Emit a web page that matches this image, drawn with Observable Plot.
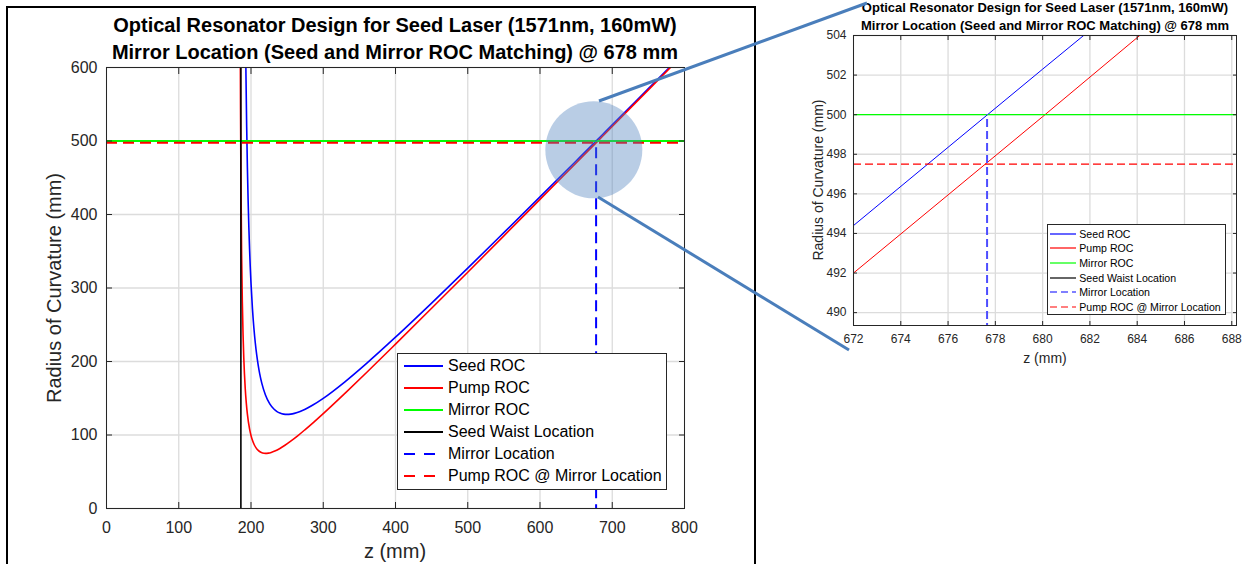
<!DOCTYPE html>
<html><head><meta charset="utf-8">
<script src="https://cdn.jsdelivr.net/npm/d3@7"></script>
<script src="https://cdn.jsdelivr.net/npm/@observablehq/plot@0.6"></script>
<style>
body{margin:0;background:#fff;font-family:"Liberation Sans",Arial,sans-serif;color:#262626;}
#root{position:relative;width:1245px;height:564px;overflow:hidden;background:#fff;}
.abs{position:absolute;}
.ctr{position:absolute;transform:translate(-50%,-50%);line-height:1;white-space:nowrap;}
.title{font-weight:bold;color:#000;}
.leg{position:absolute;background:#fff;border:1px solid #262626;box-sizing:border-box;}
</style></head><body><div id="root"></div>
<script>
// ---- data ----
const seedZ = [192, 193, 194, 195, 196, 197, 198, 199, 200, 202, 204, 206, 208, 210, 212, 215, 220, 226, 232, 236, 240, 245, 250, 255, 260, 268, 275, 285, 300, 330, 360, 400, 450, 500, 550, 600, 650, 672, 680, 690, 750, 790, 800];
const seedR = [688.7, 592.1, 520.0, 464.1, 419.6, 383.4, 353.3, 328.1, 306.6, 272.0, 245.6, 224.8, 208.2, 194.7, 183.5, 170.2, 154.5, 142.4, 135.0, 131.9, 129.9, 128.4, 128.0, 128.4, 129.4, 131.9, 135.0, 140.4, 149.9, 172.4, 197.5, 233.1, 279.5, 327.0, 375.3, 423.9, 472.8, 494.4, 502.3, 512.1, 571.3, 610.8, 620.7];
const pumpZ = [184.5, 185, 185.5, 186, 187, 188, 189, 190, 192, 193.5, 195, 198, 200, 202, 204.5, 207, 210, 213, 216, 220, 224, 228, 233, 240, 247, 255, 265, 275, 287, 300, 330, 360, 400, 450, 500, 550, 600, 650, 672, 680, 690, 750, 800];
const pumpR = [880.5, 671.7, 543.5, 456.7, 347.1, 280.8, 236.6, 205.2, 163.6, 143.3, 128.3, 108.2, 99.3, 92.7, 86.7, 82.5, 79.0, 76.8, 75.6, 75.0, 75.3, 76.3, 78.2, 81.7, 86.0, 91.6, 99.2, 107.4, 117.6, 129.1, 156.7, 185.0, 223.6, 272.4, 321.5, 370.9, 420.5, 470.1, 492.0, 499.9, 509.9, 569.6, 619.4];
const mirrorROC = 500;
const waistZ = 186;
const mirrorZ = 677.65;
const pumpAtMirror = 497.5;
const mainXTicks = [0, 100, 200, 300, 400, 500, 600, 700, 800];
const mainYTicks = [0, 100, 200, 300, 400, 500, 600];
const zoomXTicks = [672, 674, 676, 678, 680, 682, 684, 686, 688];
const zoomYTicks = [490, 492, 494, 496, 498, 500, 502, 504];
const zoomCircleZ = [674.5];
const zoomCircleR = [488];
const legendLabels = ["Seed ROC", "Pump ROC", "Mirror ROC", "Seed Waist Location", "Mirror Location", "Pump ROC @ Mirror Location"];
const legendColors = ["#0000ff", "#ff0000", "#00ff00", "#000000", "#0000ff", "#ff0000"];
const legendDashed = [false, false, false, false, true, true];
const titleLine1 = "Optical Resonator Design for Seed Laser (1571nm, 160mW)";
const titleLine2 = "Mirror Location (Seed and Mirror ROC Matching) @ 678 mm";
const xLabel = "z (mm)";
const yLabel = "Radius of Curvature (mm)";

// ---- build ----
const seed = seedZ.map((z, i) => ({z, r: seedR[i]}));
const pump = pumpZ.map((z, i) => ({z, r: pumpR[i]}));
const circle = zoomCircleZ.map((z, i) => ({z, r: zoomCircleR[i]}));
const root = document.getElementById("root");

function chart(o) {
  const marks = [
    Plot.gridX(o.xTicks, {stroke: "#dcdcdc", strokeOpacity: 1, strokeWidth: o.gw}),
    Plot.gridY(o.yTicks, {stroke: "#dcdcdc", strokeOpacity: 1, strokeWidth: o.gw}),
    Plot.line(seed, {x: "z", y: "r", stroke: "#0000ff", strokeWidth: o.lw, curve: "monotone-x", clip: true}),
    Plot.line(pump, {x: "z", y: "r", stroke: "#ff0000", strokeWidth: o.lw, curve: "monotone-x", clip: true}),
    Plot.ruleY([mirrorROC], {stroke: "#00ff00", strokeWidth: o.lw2, clip: true}),
    Plot.ruleX([waistZ], {stroke: "#000000", strokeWidth: o.lw, clip: true}),
    Plot.ruleX([mirrorZ], {y1: o.yDomain[0] - 10, y2: mirrorROC, stroke: o.dashBlue, strokeWidth: o.dw, strokeDasharray: o.dash, clip: true}),
    Plot.ruleY([pumpAtMirror], {stroke: "#ff0000", strokeWidth: o.dw2, strokeDasharray: o.dash, clip: true}),
  ];
  if (o.circle) marks.push(Plot.dot(circle, {x: "z", y: "r", r: o.circle, fill: "#4f81bd", fillOpacity: 0.4, stroke: null}));
  marks.push(
    Plot.frame({stroke: "#262626", strokeWidth: 1}),
    Plot.axisX(o.xTicks, {tickSize: 0, tickPadding: o.xpad, label: null, fontSize: o.fs, fill: "#262626"}),
    Plot.axisY(o.yTicks, {tickSize: 0, tickPadding: o.ypad, label: null, fontSize: o.fs, fill: "#262626"}),
    Plot.axisX(o.xTicks, {anchor: "bottom", tickSize: -o.tk, tickFormat: () => "", label: null, stroke: "#262626"}),
    Plot.axisX(o.xTicks, {anchor: "top", tickSize: -o.tk, tickFormat: () => "", label: null, stroke: "#262626"}),
    Plot.axisY(o.yTicks, {anchor: "left", tickSize: -o.tk, tickFormat: () => "", label: null, stroke: "#262626"}),
    Plot.axisY(o.yTicks, {anchor: "right", tickSize: -o.tk, tickFormat: () => "", label: null, stroke: "#262626"})
  );
  return Plot.plot({
    width: o.width, height: o.height,
    marginLeft: o.ml, marginRight: o.mr, marginTop: o.mt, marginBottom: o.mb,
    style: {background: "transparent", fontFamily: "'Liberation Sans', Arial, sans-serif", overflow: "visible", color: "#262626"},
    x: {domain: o.xDomain},
    y: {domain: o.yDomain},
    marks
  });
}

function place(el, left, top, z) {
  const d = document.createElement("div");
  d.className = "abs"; d.style.left = left + "px"; d.style.top = top + "px"; d.style.zIndex = z;
  d.appendChild(el); root.appendChild(d); return d;
}
function text(str, cx, cy, size, cls, rotate, z) {
  const d = document.createElement("div");
  d.className = "ctr " + (cls || "");
  d.textContent = str;
  d.style.left = cx + "px"; d.style.top = cy + "px"; d.style.fontSize = size + "px";
  d.style.zIndex = z || 5;
  if (rotate) d.style.transform = "translate(-50%,-50%) rotate(-90deg)";
  root.appendChild(d); return d;
}
function legend(left, top, w, h, y0, dy, x1, x2, tx, fs, lw, dash) {
  const box = document.createElement("div");
  box.className = "leg";
  Object.assign(box.style, {left: left + "px", top: top + "px", width: w + "px", height: h + "px", zIndex: 6});
  legendLabels.forEach((lab, i) => {
    const y = y0 + dy * i;
    const svg = document.createElementNS("http://www.w3.org/2000/svg", "svg");
    svg.setAttribute("width", w); svg.setAttribute("height", 10);
    Object.assign(svg.style, {position: "absolute", left: "-1px", top: (y - 6) + "px"});
    const ln = document.createElementNS("http://www.w3.org/2000/svg", "line");
    ln.setAttribute("x1", x1); ln.setAttribute("x2", x2); ln.setAttribute("y1", 5); ln.setAttribute("y2", 5);
    ln.setAttribute("stroke", legendColors[i]); ln.setAttribute("stroke-width", lw);
    if (legendDashed[i]) ln.setAttribute("stroke-dasharray", dash);
    svg.appendChild(ln); box.appendChild(svg);
    const s = document.createElement("span");
    s.textContent = lab;
    Object.assign(s.style, {position: "absolute", left: (tx - 1) + "px", top: (y - 1) + "px", fontSize: fs + "px", lineHeight: 1, transform: "translateY(-50%)", whiteSpace: "nowrap", color: "#000"});
    box.appendChild(s);
  });
  root.appendChild(box);
}

// outer frame of the main figure
const frame = document.createElement("div");
Object.assign(frame.style, {position: "absolute", left: "6px", top: "6px", width: "750px", height: "600px", border: "2px solid #000", boxSizing: "border-box", zIndex: 0});
root.appendChild(frame);

// main chart
const mainSvg = chart({width: 760, height: 564, ml: 106, mr: 76, mt: 67, mb: 56,
  xDomain: [0, 800], yDomain: [0, 600], xTicks: mainXTicks, yTicks: mainYTicks,
  gw: 1.3, lw: 1.6, lw2: 2, dw: 2, dw2: 2, dash: "11,6", dashBlue: "#0000ff", fs: 16, xpad: 13, ypad: 9, tk: 6, circle: 48.5});
place(mainSvg, 0, 0, 1);

// zoomed chart
const zoomSvg = chart({width: 465, height: 380, ml: 73, mr: 9, mt: 35, mb: 55,
  xDomain: [672, 688.2], yDomain: [489.35, 504], xTicks: zoomXTicks, yTicks: zoomYTicks,
  gw: 1.3, lw: 1, lw2: 1.2, dw: 2, dw2: 1.3, dash: "8,4", dashBlue: "#4d4dff", fs: 12, xpad: 9, ypad: 7, tk: 4, circle: 0});
place(zoomSvg, 780, 0, 1);

// titles and labels
text(titleLine1, 395, 25, 20, "title");
text(titleLine2, 395, 51.5, 20, "title");
text(xLabel, 395, 551, 20, "");
text(yLabel, 53.5, 287.5, 20, "", true);
text(titleLine1, 1045, 7, 13, "title");
text(titleLine2, 1045, 25, 13, "title");
text(xLabel, 1045, 357.5, 14, "");
text(yLabel, 818, 180, 14, "", true);

// legends
legend(397, 353, 270, 137, 13, 22, 7, 46, 51, 16, 2, "11,9");
legend(1047, 224, 179, 91, 9.5, 14.7, 3, 29, 32.3, 10.6, 1.2, "7,4");

// connector lines of the zoom callout
const ov = document.createElementNS("http://www.w3.org/2000/svg", "svg");
ov.setAttribute("width", 1245); ov.setAttribute("height", 564);
Object.assign(ov.style, {position: "absolute", left: 0, top: 0, zIndex: 10, pointerEvents: "none"});
[[599, 101, 867, 3], [598, 197, 849, 350]].forEach(([a, b, c, d]) => {
  const l = document.createElementNS("http://www.w3.org/2000/svg", "line");
  l.setAttribute("x1", a); l.setAttribute("y1", b); l.setAttribute("x2", c); l.setAttribute("y2", d);
  l.setAttribute("stroke", "#4a7ebb"); l.setAttribute("stroke-width", 3);
  ov.appendChild(l);
});
root.appendChild(ov);
</script>
</body></html>
